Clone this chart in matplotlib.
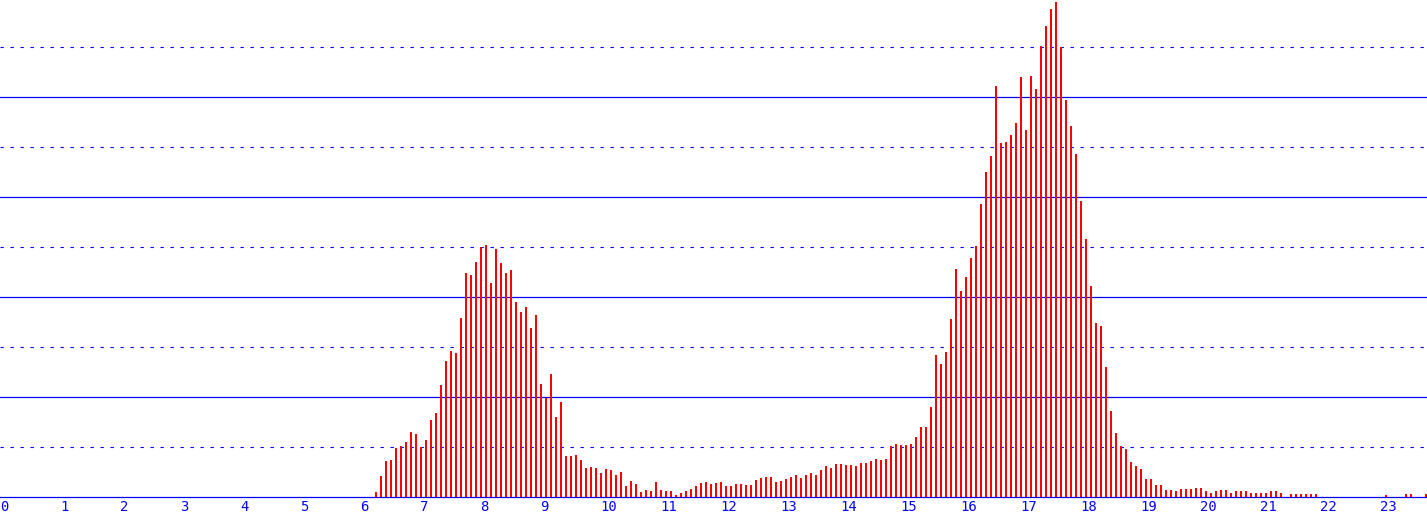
import matplotlib
matplotlib.use("Agg")
from matplotlib import pyplot as plt

# bar heights per 5-minute slot, starting at slot 75 (6:15)
first_slot = 75
heights = [
    5, 21, 36, 37, 49, 51, 55, 65, 63, 50, 57, 77, 84, 112, 136, 146, 144, 179, 224, 222, 235, 250,
    252, 214, 248, 234, 224, 227, 195, 185, 190, 169, 182, 113, 99, 123, 80, 95, 41, 41, 42, 37, 29, 30, 29, 24,
    28, 27, 22, 25, 11, 16, 13, 5, 7, 6, 15, 7, 6, 6, 2, 4, 6, 8, 11, 14, 15, 13, 14, 15,
    11, 11, 13, 13, 12, 12, 17, 19, 20, 20, 15, 16, 18, 20, 22, 19, 22, 24, 22, 27, 31, 29, 33, 33,
    32, 32, 31, 34, 34, 36, 38, 37, 38, 51, 53, 52, 52, 53, 60, 70, 70, 90, 142, 133, 145, 178, 228, 206,
    220, 239, 251, 293, 325, 341, 411, 354, 355, 362, 374, 420, 367, 421, 408, 451, 471, 488, 495, 450, 397, 371, 343, 296,
    258, 211, 174, 171, 130, 86, 64, 51, 48, 35, 31, 28, 18, 18, 12, 12, 7, 7, 6, 8, 8, 8, 9, 9,
    6, 4, 6, 7, 7, 4, 6, 6, 6, 4, 4, 4, 4, 6, 6, 4, 0, 3, 3, 3, 3, 3, 3,
    0, 0, 0, 0, 0, 0, 0, 0, 0, 0, 0, 0, 0, 2, 0, 0, 0, 3, 3, 0, 0, 3,
]
hours = list(range(24))

blue = "#0000ff"

fig = plt.figure(figsize=(14.27, 5.17), dpi=100)
ax = fig.add_axes([0, 20 / 517, 1, 497 / 517])

x = [(first_slot + i) / 12 for i in range(len(heights))]
ax.bar(x, heights, width=2.2 / 60, align="edge", color="#ff0000", linewidth=0, zorder=3)

ax.set_xlim(0, 1427 / 60)
ax.set_ylim(0, 497)

for y in [100, 200, 300, 400]:
    ax.axhline(y, color=blue, lw=0.9, zorder=1)
for y in [50, 150, 250, 350, 450]:
    ax.axhline(y, color=blue, lw=0.8, dashes=(3, 6), zorder=1)

for s in ["top", "left", "right"]:
    ax.spines[s].set_visible(False)
ax.spines["bottom"].set_color(blue)
ax.spines["bottom"].set_linewidth(0.9)

ax.set_yticks([])
ax.set_xticks(hours)
ax.set_xticklabels([str(h) for h in hours], family="DejaVu Sans Mono", fontsize=10, color=blue)
ax.tick_params(axis="x", length=0, pad=2)
for lbl in ax.get_xticklabels():
    lbl.set_ha("left")

fig.savefig("out.png", dpi=100)
